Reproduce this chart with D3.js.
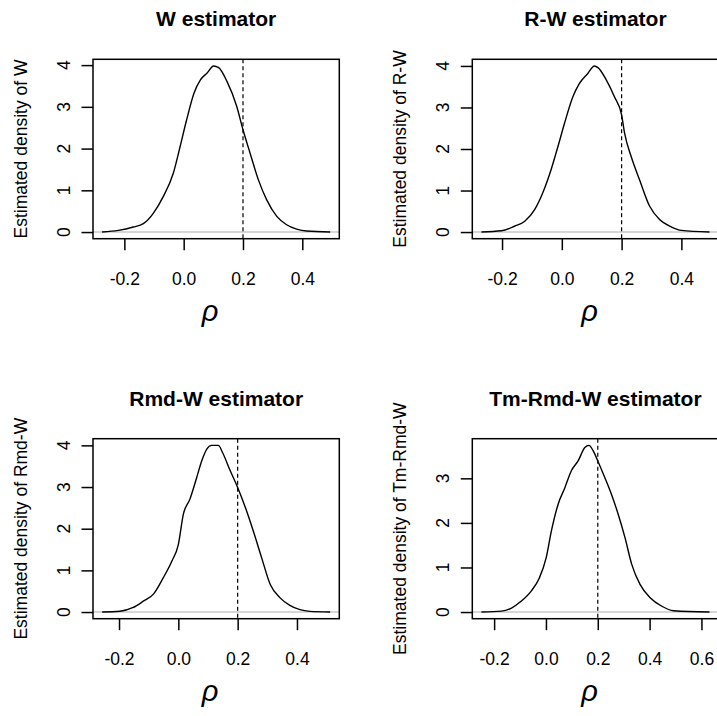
<!DOCTYPE html>
<html>
<head>
<meta charset="utf-8">
<script src="https://cdn.jsdelivr.net/npm/d3@7"></script>
<style>
  body { margin: 0; background: #fff; }
  text { font-family: "Liberation Sans", Arial, sans-serif; fill: #000; }
</style>
</head>
<body>
<div id="chart"></div>
<script>
var w = 717;
var h = 716;

// titles and axis labels
var titles = ["W estimator", "R-W estimator", "Rmd-W estimator", "Tm-Rmd-W estimator"];
var yLabels = ["Estimated density of W", "Estimated density of R-W",
               "Estimated density of Rmd-W", "Estimated density of Tm-Rmd-W"];
var trueRho = 0.2;

// density curves
var rhoW  = [-0.275, -0.22, -0.17, -0.136, -0.102, -0.069, -0.035, -0.012, 0.01, 0.035, 0.057, 0.079, 0.101, 0.118, 0.146, 0.179, 0.2, 0.224, 0.252, 0.28, 0.314, 0.347, 0.381, 0.415, 0.494];
var densW = [0.002, 0.04, 0.12, 0.2, 0.455, 0.85, 1.41, 2.05, 2.69, 3.33, 3.65, 3.81, 3.98, 3.94, 3.61, 3.01, 2.45, 1.89, 1.25, 0.77, 0.375, 0.175, 0.07, 0.024, 0.002];

var rhoRW  = [-0.269, -0.202, -0.158, -0.124, -0.091, -0.064, -0.036, -0.013, 0.009, 0.037, 0.059, 0.087, 0.109, 0.121, 0.149, 0.176, 0.2, 0.21, 0.232, 0.26, 0.294, 0.327, 0.367, 0.4, 0.494];
var densRW = [0.002, 0.03, 0.14, 0.26, 0.54, 0.94, 1.5, 2.06, 2.62, 3.26, 3.58, 3.82, 4.0, 3.96, 3.66, 3.26, 2.82, 2.38, 1.82, 1.26, 0.62, 0.3, 0.12, 0.04, 0.002];

var rhoRmd  = [-0.257, -0.197, -0.152, -0.118, -0.084, -0.051, -0.022, 0.0, 0.017, 0.039, 0.062, 0.079, 0.096, 0.112, 0.135, 0.149, 0.175, 0.2, 0.226, 0.253, 0.281, 0.31, 0.343, 0.376, 0.41, 0.444, 0.512];
var densRmd = [0.002, 0.02, 0.11, 0.26, 0.43, 0.82, 1.22, 1.62, 2.35, 2.71, 3.23, 3.63, 3.91, 4.0, 4.0, 3.83, 3.39, 2.99, 2.51, 1.94, 1.3, 0.66, 0.34, 0.16, 0.056, 0.016, 0.002];

var rhoTm  = [-0.249, -0.172, -0.133, -0.096, -0.057, -0.025, 0.001, 0.021, 0.047, 0.073, 0.098, 0.124, 0.15, 0.166, 0.182, 0.2, 0.227, 0.253, 0.279, 0.305, 0.331, 0.363, 0.402, 0.447, 0.493, 0.631];
var densTm = [0.002, 0.02, 0.09, 0.24, 0.47, 0.77, 1.22, 1.82, 2.42, 2.79, 3.17, 3.39, 3.69, 3.74, 3.62, 3.39, 3.02, 2.64, 2.19, 1.67, 1.07, 0.62, 0.32, 0.13, 0.03, 0.002];

// ticks
var xTicksA = [-0.2, 0.0, 0.2, 0.4];
var xTickLabelsA = ["-0.2", "0.0", "0.2", "0.4"];
var xTicksB = [-0.2, 0.0, 0.2, 0.4, 0.6];
var xTickLabelsB = ["-0.2", "0.0", "0.2", "0.4", "0.6"];
var yTicksA = [0, 1, 2, 3, 4];
var yTicksB = [0, 1, 2, 3];

var series = [
  {x: rhoW,   y: densW,   xt: xTicksA, xl: xTickLabelsA, yt: yTicksA},
  {x: rhoRW,  y: densRW,  xt: xTicksA, xl: xTickLabelsA, yt: yTicksA},
  {x: rhoRmd, y: densRmd, xt: xTicksA, xl: xTickLabelsA, yt: yTicksA},
  {x: rhoTm,  y: densTm,  xt: xTicksB, xl: xTickLabelsB, yt: yTicksB}
];

// plot boxes (pixels)
var boxes = [
  {x0: 93,    x1: 339.3, y0: 59.3,  y1: 238.7},
  {x0: 472.3, x1: 718.6, y0: 59.3,  y1: 238.7},
  {x0: 93,    x1: 339.3, y0: 438.7, y1: 618.7},
  {x0: 472.3, x1: 718.6, y0: 438.7, y1: 618.7}
];

var svg = d3.select("#chart").append("svg")
    .attr("width", w)
    .attr("height", h);

series.forEach(function(s, i) {
  var b = boxes[i];
  var g = svg.append("g");

  // R style 4% range extension
  var xe = d3.extent(s.x);
  var xpad = (xe[1] - xe[0]) * 0.04;
  var ymax = d3.max(s.y);
  var xScale = d3.scaleLinear().domain([xe[0] - xpad, xe[1] + xpad]).range([b.x0, b.x1]);
  var yScale = d3.scaleLinear().domain([-ymax * 0.04, ymax * 1.04]).range([b.y1, b.y0]);

  // gray zero line
  g.append("line")
    .attr("x1", b.x0).attr("x2", b.x1)
    .attr("y1", yScale(0)).attr("y2", yScale(0))
    .attr("stroke", "#c8c8c8")
    .attr("stroke-width", 1.5);

  // dashed line at true rho
  g.append("line")
    .attr("x1", xScale(trueRho)).attr("x2", xScale(trueRho))
    .attr("y1", b.y0).attr("y2", b.y1)
    .attr("stroke", "#000")
    .attr("stroke-width", 1.2)
    .attr("stroke-dasharray", "4,3");

  // density curve
  var line = d3.line()
    .x(function(d) { return xScale(d[0]); })
    .y(function(d) { return yScale(d[1]); })
    .curve(d3.curveMonotoneX);

  g.append("path")
    .datum(d3.zip(s.x, s.y))
    .attr("fill", "none")
    .attr("stroke", "#000")
    .attr("stroke-width", 1.4)
    .attr("d", line);

  // box
  g.append("rect")
    .attr("x", b.x0).attr("y", b.y0)
    .attr("width", b.x1 - b.x0).attr("height", b.y1 - b.y0)
    .attr("fill", "none")
    .attr("stroke", "#000")
    .attr("stroke-width", 1.5);

  // X axis
  var xAxis = d3.axisBottom(xScale)
    .tickValues(s.xt)
    .tickSize(11.5)
    .tickPadding(22)
    .tickFormat(function(d, k) { return s.xl[k]; });

  var gx = g.append("g")
    .attr("transform", "translate(0," + b.y1 + ")")
    .call(xAxis);
  gx.select(".domain").remove();
  gx.selectAll(".tick line").attr("stroke", "#000").attr("stroke-width", 1.5);
  gx.selectAll(".tick text")
    .attr("font-family", "Liberation Sans, Arial, sans-serif")
    .attr("font-size", 17.5)
    .attr("fill", "#000");

  // Y axis (labels rotated like R)
  var yAxis = d3.axisLeft(yScale)
    .tickValues(s.yt)
    .tickSize(11.5)
    .tickFormat("");

  var gy = g.append("g")
    .attr("transform", "translate(" + b.x0 + ",0)")
    .call(yAxis);
  gy.select(".domain").remove();
  gy.selectAll(".tick line").attr("stroke", "#000").attr("stroke-width", 1.5);

  g.selectAll(".ylab")
    .data(s.yt)
    .enter()
    .append("text")
    .attr("class", "ylab")
    .attr("transform", function(d) {
      return "translate(" + (b.x0 - 23) + "," + yScale(d) + ") rotate(-90)";
    })
    .attr("text-anchor", "middle")
    .attr("font-size", 17.5)
    .text(function(d) { return d; });

  // Y axis title
  g.append("text")
    .attr("transform", "translate(" + (b.x0 - 66) + "," + ((b.y0 + b.y1) / 2) + ") rotate(-90)")
    .attr("text-anchor", "middle")
    .attr("font-size", 17.5)
    .text(yLabels[i]);

  // title
  g.append("text")
    .attr("x", (b.x0 + b.x1) / 2)
    .attr("y", b.y0 - 33)
    .attr("text-anchor", "middle")
    .attr("font-size", 21)
    .attr("font-weight", "bold")
    .text(titles[i]);

  // x label
  g.append("text")
    .attr("x", (b.x0 + b.x1) / 2 - 6)
    .attr("y", b.y1 + 82)
    .attr("text-anchor", "middle")
    .attr("font-family", "Liberation Serif, Times New Roman, serif")
    .attr("font-style", "italic")
    .attr("font-size", 29)
    .text("\u03C1");
});
</script>
</body>
</html>
